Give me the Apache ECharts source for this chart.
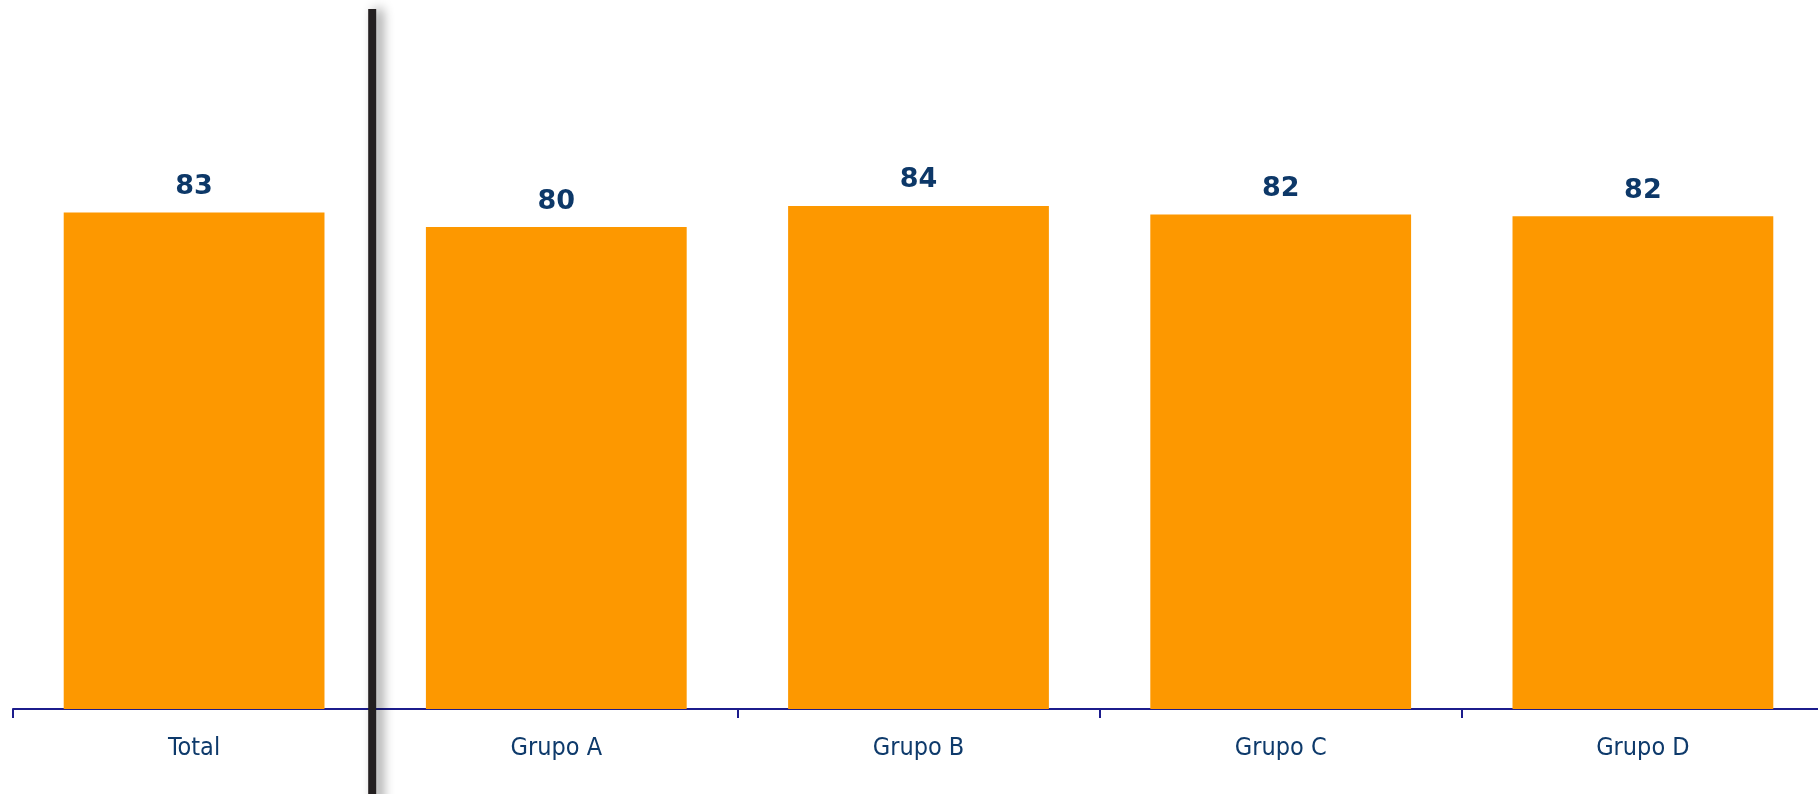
<!DOCTYPE html>
<html>
<head>
<meta charset="utf-8">
<script src="https://cdn.jsdelivr.net/npm/echarts@6/dist/echarts.min.js"></script>
<style>
html,body{margin:0;padding:0;background:#fff;}
#chart{width:1818px;height:794px;}
</style>
</head>
<body>
<div id="chart"></div>
<script>
const categories = ['Total', 'Grupo A', 'Grupo B', 'Grupo C', 'Grupo D'];
const values = [82.6, 80.2, 83.7, 82.3, 82.0];
const yMin = 0;
const yMax = 100;

const chart = echarts.init(document.getElementById('chart'), null, {renderer: 'canvas'});
const option = {
  animation: false,
  backgroundColor: '#ffffff',
  grid: {left: 13, width: 1811, top: 108, height: 601, containLabel: false, outerBoundsMode: 'none'},
  xAxis: {
    type: 'category',
    data: categories,
    axisLine: {show: true, lineStyle: {color: '#1c1c8c', width: 2}},
    axisTick: {show: true, length: 9, lineStyle: {color: '#1c1c8c', width: 2}},
    axisLabel: {
      color: '#0e3a6b',
      fontFamily: 'DejaVu Sans Condensed, DejaVu Sans',
      fontSize: 25,
      margin: 27
    },
    splitLine: {show: false}
  },
  yAxis: {
    type: 'value',
    min: yMin,
    max: yMax,
    show: false,
    splitLine: {show: false}
  },
  series: [{
    type: 'bar',
    data: values,
    barWidth: '72%',
    itemStyle: {color: '#fd9800'},
    label: {
      show: true,
      position: 'top',
      distance: 12,
      formatter: p => Math.round(p.value),
      color: '#0d3868',
      fontFamily: 'DejaVu Sans',
      fontWeight: 'bold',
      fontSize: 27
    }
  }]
};
chart.setOption(option);

const p0 = chart.convertToPixel({xAxisIndex: 0}, categories[0]);
const p1 = chart.convertToPixel({xAxisIndex: 0}, categories[1]);
const sepX = (p0 + p1) / 2;
chart.setOption({
  graphic: [{
    type: 'rect',
    shape: {x: sepX - 7, y: 9, width: 8, height: 800},
    style: {fill: '#231f20', shadowBlur: 12, shadowOffsetX: 6, shadowColor: 'rgba(0,0,0,0.45)'},
    z: 100
  }]
});
</script>
</body>
</html>
